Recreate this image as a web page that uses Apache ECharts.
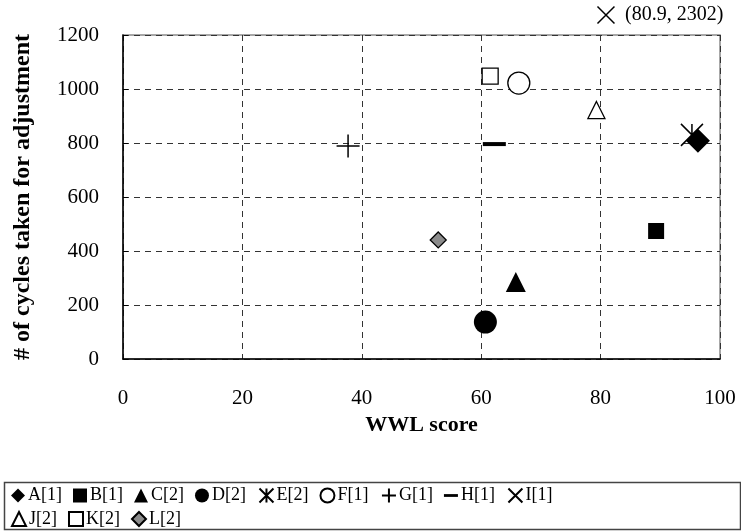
<!DOCTYPE html>
<html><head><meta charset="utf-8">
<script src="https://cdn.jsdelivr.net/npm/echarts@6/dist/echarts.min.js"></script>
<style>html,body{margin:0;padding:0;background:#fff}#c{width:741px;height:531px}</style>
</head><body><div id="c"></div>
<script>
// Data: [WWL score, # of cycles]
const seriesNames = ['A[1]','B[1]','C[2]','D[2]','E[2]','F[1]','G[1]','H[1]','I[1]','J[2]','K[2]','L[2]'];
const A = [[96.3, 808]];
const B = [[89.3, 474]];
const C = [[65.8, 285]];
const D = [[60.7, 137]];
const E = [[95.3, 830]];
const F = [[66.3, 1022]];
const G = [[37.7, 789]];
const H = [[62.2, 796]];
const I_actual = [80.9, 2302];      // off-scale point, labelled
const I_drawnY = 1274;              // drawn just above the plot top
const J = [[79.3, 922]];
const K = [[61.5, 1048]];
const L = [[52.8, 441]];
const xTicks = [0, 20, 40, 60, 80, 100];
const yTicks = [0, 200, 400, 600, 800, 1000, 1200];

const FONT = 'Liberation Serif';
const PLUS = 'path://M0,5L10,5M5,0L5,10';
const CROSS = 'path://M0,0L10,10M10,0L0,10';
const STAR = 'path://M0,0L10,10M10,0L0,10M5,0L5,10';
const DASH = 'path://M0,0L12,0L12,2.4L0,2.4Z';

const filled = {color:'#000', borderColor:'#000', borderWidth:0, opacity:1};
const open = {color:'#fff', borderColor:'#000', borderWidth:1.3, opacity:1};
const stroke = {color:'none', borderColor:'#000', borderWidth:1.5, opacity:1};

function s(name, data, symbol, size, style, extra) {
  return Object.assign({
    name, type:'scatter', data, symbol, symbolSize:size, itemStyle:style,
    symbolKeepAspect:true, z:5
  }, extra||{});
}

const series = [
  s('A[1]', A, 'diamond', 24, filled),
  s('B[1]', B, 'rect', 16, filled),
  s('C[2]', C, 'triangle', 20, filled),
  s('D[2]', D, 'circle', 23, filled),
  s('E[2]', E, STAR, 22, stroke),
  s('F[1]', F, 'circle', 22, open),
  s('G[1]', G, PLUS, 23, stroke),
  s('H[1]', H, 'rect', [23,4], filled, {symbolKeepAspect:false}),
  s('I[1]', [[I_actual[0], I_drawnY]], CROSS, 17, stroke, {
    clip:false,
    label:{show:true, position:'right', distance:8, formatter:'(' + I_actual[0] + ', ' + I_actual[1] + ')',
      fontFamily:FONT, fontSize:20, color:'#000'}
  }),
  s('J[2]', J, 'triangle', 17, open),
  s('K[2]', K, 'rect', 16, open),
  s('L[2]', L, 'diamond', 16, {color:'#8c8c8c', borderColor:'#000', borderWidth:1.3, opacity:1}),
];

const legendIcons = {
  'A[1]':'diamond','B[1]':'rect','C[2]':'triangle','D[2]':'circle','E[2]':STAR,'F[1]':'circle',
  'G[1]':PLUS,'H[1]':DASH,'I[1]':CROSS,'J[2]':'triangle','K[2]':'rect','L[2]':'diamond'
};
function legendCfg(names, top) {
  return {
    data: names.map(n => ({name:n, icon:legendIcons[n]})),
    left: 6, top: top, orient:'horizontal', itemWidth:14, itemHeight:14, itemGap:11,
    symbolKeepAspect:true,
    textStyle:{fontFamily:FONT, fontSize:18, color:'#000', padding:[0,0,0,-2]},
    selectedMode:false
  };
}

const chart = echarts.init(document.getElementById('c'));
chart.setOption({
  animation:false,
  backgroundColor:'#fff',
  grid:{left:123, right:21, top:35, bottom:172, show:true, borderColor:'#8a8a8a', borderWidth:1.5},
  xAxis:{
    type:'value', min:xTicks[0], max:xTicks[xTicks.length-1], interval:20,
    name:'WWL score', nameLocation:'middle', nameGap:52,
    nameTextStyle:{fontFamily:FONT, fontSize:22, fontWeight:'bold', color:'#000'},
    axisLine:{show:true, lineStyle:{color:'#000', width:1.5}},
    axisTick:{show:false},
    axisLabel:{fontFamily:FONT, fontSize:21, color:'#000', margin:29, formatter:v => String(v)},
    splitLine:{show:true, lineStyle:{color:'#333', type:[6,5], width:1}}
  },
  yAxis:{
    type:'value', min:yTicks[0], max:yTicks[yTicks.length-1], interval:200,
    name:'# of cycles taken for adjustment', nameLocation:'middle', nameGap:88,
    nameTextStyle:{fontFamily:FONT, fontSize:24, fontWeight:'bold', color:'#000'},
    axisLine:{show:true, lineStyle:{color:'#000', width:1.5}},
    axisTick:{show:true, inside:true, length:5, lineStyle:{color:'#000', width:1}},
    axisLabel:{fontFamily:FONT, fontSize:21, color:'#000', margin:24, formatter:v => String(v)},
    splitLine:{show:true, lineStyle:{color:'#333', type:[6,5], width:1}}
  },
  legend:[
    legendCfg(seriesNames.slice(0,9), 481),
    legendCfg(seriesNames.slice(9), 505)
  ],
  graphic:[{
    type:'rect', left:2, top:480, shape:{width:736, height:47},
    style:{fill:'none', stroke:'#444', lineWidth:1.5}, silent:true
  }],
  series
});
</script></body></html>
